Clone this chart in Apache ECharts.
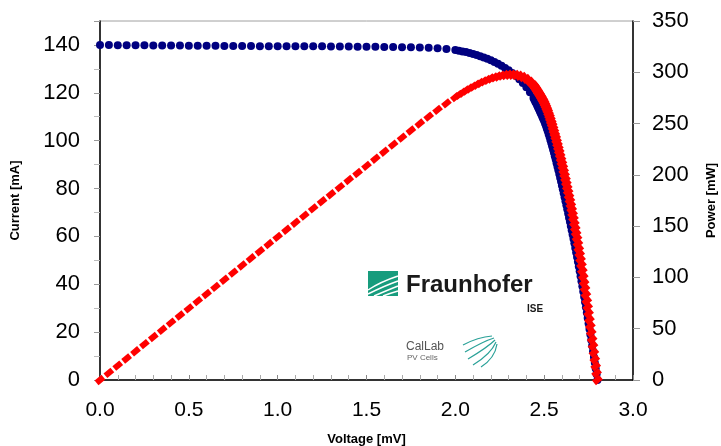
<!DOCTYPE html>
<html>
<head>
<meta charset="utf-8">
<script src="https://cdn.jsdelivr.net/npm/echarts@6/dist/echarts.min.js"></script>
<style>
  html, body { margin: 0; padding: 0; background: #fff; }
  #chart { width: 721px; height: 446px; }
</style>
</head>
<body>
<div id="chart"></div>
<script>
// measured points (voltage as on the axis, current in mA, power in mW)
var voltage = [
  0.00, 0.05, 0.10, 0.15, 0.20, 0.25, 0.30, 0.35, 0.40, 0.45,
  0.50, 0.55, 0.60, 0.65, 0.70, 0.75, 0.80, 0.85, 0.90, 0.95,
  1.00, 1.05, 1.10, 1.15, 1.20, 1.25, 1.30, 1.35, 1.40, 1.45,
  1.50, 1.55, 1.60, 1.65, 1.70, 1.75, 1.80, 1.85, 1.90, 1.95,
  2.00, 2.02, 2.04, 2.06, 2.08, 2.10, 2.12, 2.14, 2.16, 2.18,
  2.20, 2.22, 2.24, 2.26, 2.28, 2.30, 2.32, 2.34, 2.36, 2.38,
  2.40, 2.42, 2.44,
  2.445, 2.450, 2.455, 2.460, 2.465, 2.470, 2.475, 2.480, 2.485, 2.490,
  2.495, 2.500, 2.505, 2.510, 2.515, 2.520, 2.525, 2.530, 2.535, 2.540,
  2.545, 2.550, 2.555, 2.560, 2.565, 2.570, 2.575, 2.580, 2.585, 2.590,
  2.595, 2.600, 2.605, 2.610, 2.615, 2.620, 2.625, 2.630, 2.635, 2.640,
  2.645, 2.650, 2.655, 2.660, 2.665, 2.670, 2.675, 2.680, 2.685, 2.690,
  2.695, 2.700, 2.705, 2.710, 2.715, 2.720, 2.725, 2.730, 2.735, 2.740,
  2.745, 2.750, 2.755, 2.760, 2.765, 2.770, 2.775, 2.780, 2.785, 2.790,
  2.795, 2.800
];
var current = [
  140.0, 140.0, 139.9, 139.9, 139.9, 139.9, 139.8, 139.8, 139.8, 139.8,
  139.7, 139.7, 139.7, 139.7, 139.6, 139.6, 139.6, 139.6, 139.5, 139.5,
  139.5, 139.5, 139.4, 139.4, 139.4, 139.4, 139.3, 139.3, 139.3, 139.2,
  139.2, 139.2, 139.1, 139.1, 139.0, 139.0, 138.9, 138.8, 138.6, 138.3,
  137.9, 137.6, 137.3, 137.0, 136.6, 136.2, 135.8, 135.3, 134.8, 134.2,
  133.6, 132.9, 132.1, 131.3, 130.4, 129.4, 128.3, 127.1, 125.7, 124.1,
  122.3, 120.2, 117.8,
  117.1, 116.3, 115.6, 114.8, 114.0, 113.2, 112.4, 111.6, 110.8, 109.9,
  109.1, 108.2, 107.2, 106.2, 105.1, 104.0, 102.8, 101.6, 100.3, 99.0,
  97.7, 96.3, 94.9, 93.5, 92.1, 90.6, 89.1, 87.6, 86.1, 84.5,
  82.9, 81.3, 79.7, 78.0, 76.4, 74.7, 73.0, 71.3, 69.6, 67.8,
  66.1, 64.3, 62.6, 60.8, 59.0, 57.1, 55.2, 53.3, 51.4, 49.4,
  47.4, 45.4, 43.4, 41.3, 39.2, 37.0, 34.8, 32.6, 30.4, 28.1,
  25.9, 23.6, 21.3, 19.0, 16.7, 14.3, 12.0, 9.6, 7.2, 4.8,
  2.4, 0.0
];
var power = [
  0.00, 7.00, 13.99, 20.99, 27.98, 34.98, 41.94, 48.93, 55.92, 62.91,
  69.85, 76.84, 83.82, 90.81, 97.72, 104.70, 111.68, 118.66, 125.55, 132.53,
  139.50, 146.48, 153.34, 160.31, 167.28, 174.25, 181.09, 188.06, 195.02, 201.84,
  208.80, 215.76, 222.56, 229.52, 236.30, 243.25, 250.02, 256.78, 263.34, 269.69,
  275.80, 277.95, 280.09, 282.22, 284.13, 286.02, 287.90, 289.54, 291.17, 292.56,
  293.92, 295.04, 295.90, 296.74, 297.31, 297.62, 297.66, 297.41, 296.65, 295.36,
  293.52, 290.88, 287.43,
  286.31, 284.94, 283.80, 282.41, 281.01, 279.60, 278.19, 276.77, 275.34, 273.65,
  272.20, 270.50, 268.54, 266.56, 264.33, 262.08, 259.57, 257.05, 254.26, 251.46,
  248.65, 245.57, 242.47, 239.36, 236.24, 232.84, 229.43, 226.01, 222.57, 218.86,
  215.13, 211.38, 207.62, 203.58, 199.79, 195.71, 191.63, 187.52, 183.40, 178.99,
  174.83, 170.40, 166.20, 161.73, 157.24, 152.46, 147.66, 142.84, 138.01, 132.89,
  127.74, 122.58, 117.40, 111.92, 106.43, 100.64, 94.83, 89.00, 83.14, 76.99,
  71.10, 64.90, 58.68, 52.44, 46.18, 39.61, 33.30, 26.69, 20.05, 13.39,
  6.71, 0.00
];

var ivData = voltage.map(function (v, i) { return [v, current[i]]; });
var pvData = voltage.map(function (v, i) { return [v, power[i]]; });

var font = 'Liberation Sans, Arial, sans-serif';
var myChart = echarts.init(document.getElementById('chart'));
var option = {
  animation: false,
  backgroundColor: '#fff',
  grid: {
    left: 100, right: 88, top: 21, bottom: 66,
    outerBoundsMode: 'none',
    show: true, borderColor: '#a0a0a0', borderWidth: 1
  },
  xAxis: {
    type: 'value',
    min: 0, max: 3, interval: 0.5,
    name: 'Voltage [mV]',
    nameLocation: 'middle',
    nameGap: 53,
    nameTextStyle: { fontFamily: font, fontSize: 13, fontWeight: 'bold', color: '#000' },
    axisLine: { lineStyle: { color: '#000', width: 1.5 } },
    axisTick: { inside: true, length: 5, lineStyle: { color: '#888' } },
    minorTick: { show: true, splitNumber: 5, length: 5, lineStyle: { color: '#aaa' } },
    axisLabel: {
      fontFamily: font, fontSize: 21, color: '#000', margin: 20,
      formatter: function (v) { return v.toFixed(1); }
    },
    splitLine: { show: false }
  },
  yAxis: [
    {
      type: 'value',
      min: 0, max: 150, interval: 20,
      name: 'Current [mA]',
      nameLocation: 'middle',
      nameGap: 78,
      nameTextStyle: { fontFamily: font, fontSize: 13, fontWeight: 'bold', color: '#000' },
      axisLine: { show: true, lineStyle: { color: '#000', width: 1.5 } },
      axisTick: { inside: false, length: 6, lineStyle: { color: '#999' } },
      minorTick: { show: true, splitNumber: 2, length: 6, lineStyle: { color: '#bbb' } },
      axisLabel: {
        fontFamily: font, fontSize: 22, color: '#000', margin: 20,
        showMaxLabel: false
      },
      splitLine: { show: false }
    },
    {
      type: 'value',
      min: 0, max: 350, interval: 50,
      name: 'Power [mW]',
      nameLocation: 'middle',
      nameGap: 72,
      nameTextStyle: { fontFamily: font, fontSize: 13, fontWeight: 'bold', color: '#000' },
      axisLine: { show: true, lineStyle: { color: '#000', width: 1.5 } },
      axisTick: { inside: false, length: 7, lineStyle: { color: '#999' } },
      axisLabel: { fontFamily: font, fontSize: 22, color: '#000', margin: 19 },
      splitLine: { show: false }
    }
  ],
  graphic: [
    // Fraunhofer ISE logo
    { type: 'rect', left: 368, top: 271, shape: { width: 30, height: 25 }, style: { fill: '#179c7d' } },
    { type: 'bezierCurve', shape: { x1: 368, y1: 290, x2: 398, y2: 276, cpx1: 380, cpy1: 282 }, style: { stroke: '#fff', lineWidth: 1.5, fill: null } },
    { type: 'bezierCurve', shape: { x1: 368, y1: 294, x2: 398, y2: 281, cpx1: 384, cpy1: 286 }, style: { stroke: '#fff', lineWidth: 1.5, fill: null } },
    { type: 'bezierCurve', shape: { x1: 374, y1: 296, x2: 398, y2: 286, cpx1: 388, cpy1: 290 }, style: { stroke: '#fff', lineWidth: 1.5, fill: null } },
    { type: 'bezierCurve', shape: { x1: 383, y1: 296, x2: 398, y2: 291, cpx1: 391, cpy1: 293 }, style: { stroke: '#fff', lineWidth: 1.5, fill: null } },
    { type: 'text', left: 406, top: 273, style: { text: 'Fraunhofer', fontFamily: font, fontSize: 24, fontWeight: 'bold', fill: '#1a1a1a' } },
    { type: 'text', left: 527, top: 304, style: { text: 'ISE', fontFamily: font, fontSize: 10, fontWeight: 'bold', fill: '#1a1a1a' } },
    { type: 'text', left: 406, top: 341, style: { text: 'CalLab', fontFamily: font, fontSize: 12, fill: '#555' } },
    { type: 'text', left: 407, top: 354, style: { text: 'PV Cells', fontFamily: font, fontSize: 8, fill: '#666' } },
    { type: 'bezierCurve', shape: { x1: 463, y1: 345, x2: 492, y2: 336, cpx1: 478, cpy1: 337 }, style: { stroke: '#2aa198', lineWidth: 1.2, fill: null } },
    { type: 'bezierCurve', shape: { x1: 465, y1: 352, x2: 494, y2: 338, cpx1: 484, cpy1: 341 }, style: { stroke: '#2aa198', lineWidth: 1.2, fill: null } },
    { type: 'bezierCurve', shape: { x1: 468, y1: 359, x2: 495, y2: 340, cpx1: 488, cpy1: 347 }, style: { stroke: '#2aa198', lineWidth: 1.2, fill: null } },
    { type: 'bezierCurve', shape: { x1: 473, y1: 365, x2: 496, y2: 342, cpx1: 491, cpy1: 354 }, style: { stroke: '#2aa198', lineWidth: 1.2, fill: null } },
    { type: 'bezierCurve', shape: { x1: 481, y1: 367, x2: 497, y2: 344, cpx1: 495, cpy1: 358 }, style: { stroke: '#2aa198', lineWidth: 1.2, fill: null } }
  ],
  series: [
    {
      name: 'Current',
      type: 'scatter',
      yAxisIndex: 0,
      data: ivData,
      symbol: 'circle',
      symbolSize: 8,
      itemStyle: { color: '#000080', opacity: 1 }
    },
    {
      name: 'Power',
      type: 'scatter',
      yAxisIndex: 1,
      data: pvData,
      symbol: 'rect',
      symbolSize: [9, 6],
      symbolRotate: 40,
      itemStyle: { color: '#ff0000', opacity: 1 }
    }
  ]
};
myChart.setOption(option);
</script>
</body>
</html>
